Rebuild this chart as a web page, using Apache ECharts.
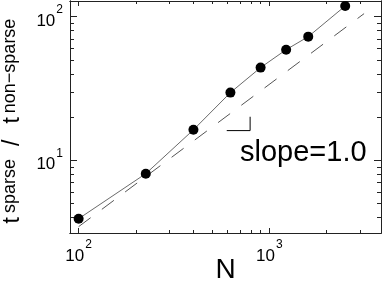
<!DOCTYPE html>
<html>
<head>
<meta charset="utf-8">
<script src="https://cdn.jsdelivr.net/npm/echarts@6/dist/echarts.min.js"></script>
<style>
html,body{margin:0;padding:0;background:#fff;}
#c{width:382px;height:286px;}
</style>
</head>
<body>
<div id="c"></div>
<script>
// ---- data ----
const nValues = [100, 225, 400, 625, 900, 1225, 1600, 2500];
const ratioValues = [3.92, 8.07, 16.3, 29.6, 44.2, 58.9, 72.6, 118.7];
const refN = [100, 3140];
const refRatio = [3.45, 105];
const slopeN = [598, 793, 793];
const slopeRatio = [16.1, 16.1, 20.1];
const xMajorTicks = [100, 1000];
const xMinorTicks = [200, 300, 400, 500, 600, 700, 800, 900, 2000, 3000];
const yMajorTicks = [10, 100];
const yMinorTicks = [4, 5, 6, 7, 8, 9, 20, 30, 40, 50, 60, 70, 80, 90];
const slopeLabel = 'slope=1.0';
const xName = 'N';
const yNameParts = ['t', 'sparse', '/', 't', 'non\u2212sparse'];

const FONT = '"Liberation Sans", Arial, Helvetica, sans-serif';
const xMin = 90.1, xMax = 3852, yMin = 3.117, yMax = 128.6;
const lineCol = '#222';

function pow10Rich(v) {
  return '{b|10}{s|' + Math.round(Math.log10(v)) + '}';
}
const richLab = {
  b: {fontSize: 17, fontFamily: FONT, color: '#000', lineHeight: 18, verticalAlign: 'bottom'},
  s: {fontSize: 12, fontFamily: FONT, color: '#000', lineHeight: 26, verticalAlign: 'top', padding: [0, 0, 0, 1]}
};

function mkX(pos, ticks, len, showLabel, extra) {
  return Object.assign({
    type: 'log', logBase: 10, min: xMin, max: xMax, position: pos, gridIndex: 0,
    axisLine: {show: true, onZero: false, lineStyle: {color: lineCol, width: 1}},
    axisTick: {show: true, inside: true, length: len, customValues: ticks, lineStyle: {color: lineCol, width: 1}},
    axisLabel: showLabel ? {show: true, customValues: xMajorTicks, formatter: pow10Rich, rich: richLab, margin: 6,
      fontSize: 17, fontFamily: FONT, color: '#000'} : {show: false},
    splitLine: {show: false}, minorTick: {show: false}
  }, extra || {});
}
function mkY(pos, ticks, len, showLabel, extra) {
  return Object.assign({
    type: 'log', logBase: 10, min: yMin, max: yMax, position: pos, gridIndex: 0,
    axisLine: {show: true, onZero: false, lineStyle: {color: lineCol, width: 1}},
    axisTick: {show: true, inside: true, length: len, customValues: ticks, lineStyle: {color: lineCol, width: 1}},
    axisLabel: showLabel ? {show: true, customValues: yMajorTicks, formatter: pow10Rich, rich: richLab, margin: 7,
      fontSize: 17, fontFamily: FONT, color: '#000'} : {show: false},
    splitLine: {show: false}, minorTick: {show: false}
  }, extra || {});
}

const mainTok = {fontSize: 23, fontFamily: FONT, fill: '#000', lineHeight: 24, verticalAlign: 'top'};
const subTok = {fontSize: 18, fontFamily: FONT, fill: '#000', lineHeight: 38, verticalAlign: 'top'};

const chart = echarts.init(document.getElementById('c'), null, {renderer: 'canvas'});
chart.setOption({
  animation: false,
  backgroundColor: '#fff',
  grid: {left: 70, right: 1, top: 1, bottom: 53, containLabel: false, outerBoundsMode: 'none'},
  xAxis: [
    mkX('bottom', xMajorTicks, 5, true, {
      name: xName, nameLocation: 'middle', nameGap: 23, nameMoveOverlap: false,
      nameTextStyle: {fontSize: 28, fontFamily: FONT, color: '#000'}
    }),
    mkX('bottom', xMinorTicks, 3, false),
    mkX('top', xMajorTicks, 5, false),
    mkX('top', xMinorTicks, 3, false)
  ],
  yAxis: [
    mkY('left', yMajorTicks, 7, true),
    mkY('left', yMinorTicks, 4, false),
    mkY('right', yMajorTicks, 7, false),
    mkY('right', yMinorTicks, 4, false)
  ],
  series: [
    {
      type: 'line', xAxisIndex: 0, yAxisIndex: 0,
      data: refN.map((n, i) => [n, refRatio[i]]),
      symbol: 'none', silent: true,
      lineStyle: {color: '#555', width: 1, type: [15, 14]}
    },
    {
      type: 'line', xAxisIndex: 0, yAxisIndex: 0,
      data: slopeN.map((n, i) => [n, slopeRatio[i]]),
      symbol: 'none', silent: true,
      lineStyle: {color: '#000', width: 1}
    },
    {
      type: 'line', xAxisIndex: 0, yAxisIndex: 0,
      data: nValues.map((n, i) => [n, ratioValues[i]]),
      symbol: 'circle', symbolSize: 10, showAllSymbol: true,
      itemStyle: {color: '#000'},
      lineStyle: {color: '#444', width: 0.8}
    }
  ],
  graphic: [
    {type: 'text', left: 240, top: 138.5, style: {text: slopeLabel, font: '29px ' + FONT, fill: '#000'}},
    {
      type: 'text', x: 20, y: 122.5, rotation: Math.PI / 2,
      style: {
        text: '{a|' + yNameParts[0] + '}{s|' + yNameParts[1] + '}{c|' + yNameParts[2] + '}{a|' + yNameParts[3] + '}{s|' + yNameParts[4] + '}',
        align: 'center', verticalAlign: 'middle', fill: '#000', font: '23px ' + FONT,
        rich: {
          a: Object.assign({}, mainTok, {padding: [0, 4, 0, 3]}),
          c: Object.assign({}, mainTok, {padding: [0, 13, 0, 13]}),
          s: subTok
        }
      }
    }
  ]
});
</script>
</body>
</html>
